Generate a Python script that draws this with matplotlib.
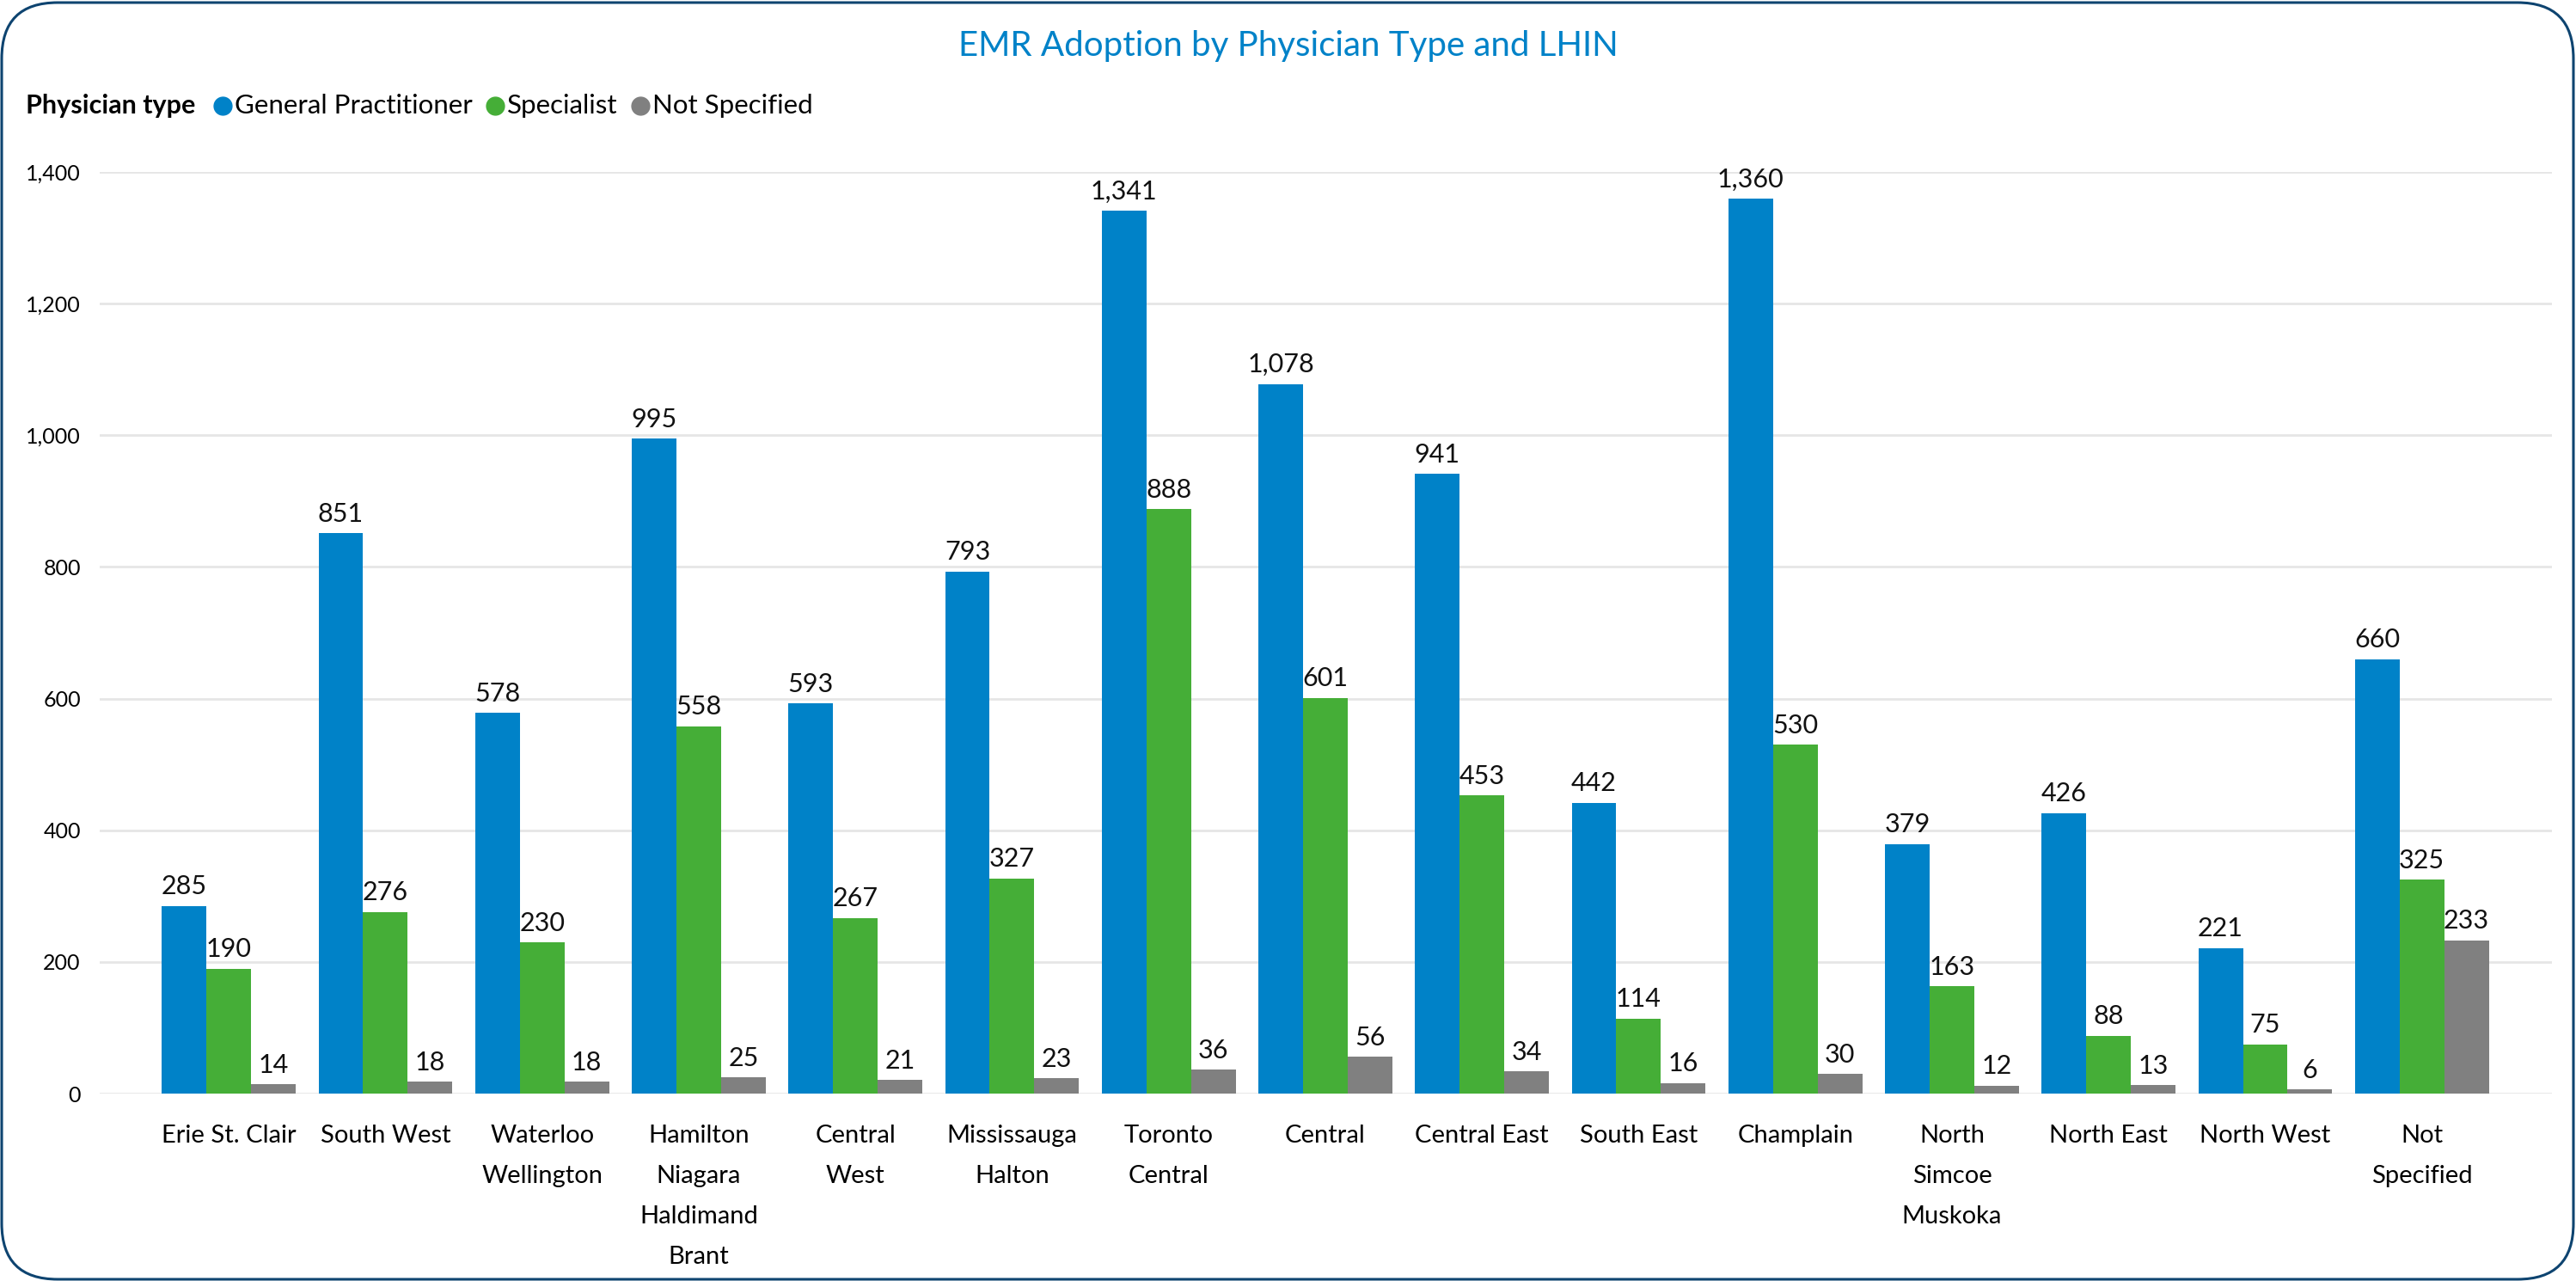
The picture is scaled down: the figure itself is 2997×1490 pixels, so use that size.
import numpy as np
import matplotlib
matplotlib.use("Agg")
import matplotlib.pyplot as plt
from matplotlib.patches import FancyBboxPatch
from matplotlib.lines import Line2D
from matplotlib.transforms import IdentityTransform
from matplotlib.ticker import FuncFormatter

plt.rcParams['font.family'] = ['Lato', 'DejaVu Sans']

# data
lhins = ['Erie St. Clair', 'South West', 'Waterloo\nWellington', 'Hamilton\nNiagara\nHaldimand\nBrant',
         'Central\nWest', 'Mississauga\nHalton', 'Toronto\nCentral', 'Central', 'Central East',
         'South East', 'Champlain', 'North\nSimcoe\nMuskoka', 'North East', 'North West', 'Not\nSpecified']
gp = [285, 851, 578, 995, 593, 793, 1341, 1078, 941, 442, 1360, 379, 426, 221, 660]
specialist = [190, 276, 230, 558, 267, 327, 888, 601, 453, 114, 530, 163, 88, 75, 325]
not_spec = [14, 18, 18, 25, 21, 23, 36, 56, 34, 16, 30, 12, 13, 6, 233]
series_names = ['General Practitioner', 'Specialist', 'Not Specified']
colors = ['#0082C8', '#45AE37', '#808080']

W, H = 2997, 1490
fig = plt.figure(figsize=(W / 100, H / 100), dpi=100)
ax = fig.add_axes([116 / W, 1 - 1272 / H, (2969 - 116) / W, (1272 - 200) / H])

x = np.arange(len(lhins))
bw = 0.285
for i, (vals, col) in enumerate(zip([gp, specialist, not_spec], colors)):
    pos = x + (i - 1) * bw
    bars = ax.bar(pos, vals, width=bw, color=col, zorder=3)
    for b, v in zip(bars, vals):
        ax.annotate(f'{v:,}', (b.get_x() + b.get_width() / 2, v), xytext=(0, 6),
                    textcoords='offset points', ha='center', va='bottom', fontsize=22, color='#111111')

ax.set_xlim(-0.824, 14.83)
ax.set_ylim(0, 1400)
ax.set_yticks(range(0, 1401, 200))
ax.yaxis.set_major_formatter(FuncFormatter(lambda v, p: f'{int(v):,}'))
ax.set_xticks(x)
ax.set_xticklabels(lhins, fontsize=21, linespacing=2.0)
ax.tick_params(axis='y', labelsize=18, length=0, pad=16)
ax.tick_params(axis='x', length=0, pad=26)
ax.grid(axis='y', color='#E6E6E6', linewidth=2, zorder=0)
ax.set_axisbelow(True)
for s in ax.spines.values():
    s.set_visible(False)

fig.text(0.5, 1 - 53 / H, 'EMR Adoption by Physician Type and LHIN', ha='center', va='center',
         fontsize=29, color='#0082C8')

# inline legend: "Physician type" then markers
fig.canvas.draw()
r = fig.canvas.get_renderer()
ly = 1 - 123 / H
t = fig.text(30 / W, ly, 'Physician type', fontsize=22, fontweight='bold', va='center')
xpos = t.get_window_extent(r).x1 + 22
for name, col in zip(series_names, colors):
    fig.add_artist(Line2D([(xpos + 10) / W], [ly], marker='o', markersize=15, color=col,
                          linestyle='none', transform=fig.transFigure))
    tt = fig.text((xpos + 24) / W, ly, name, fontsize=22.5, va='center')
    xpos = tt.get_window_extent(r).x1 + 16

frame = FancyBboxPatch((2, 2), W - 5, H - 5, boxstyle='round,pad=0,rounding_size=65',
                       transform=IdentityTransform(), facecolor='none', edgecolor='#0E4470', linewidth=2.2)
fig.patches.append(frame)

fig.savefig('out.png', dpi=100)
